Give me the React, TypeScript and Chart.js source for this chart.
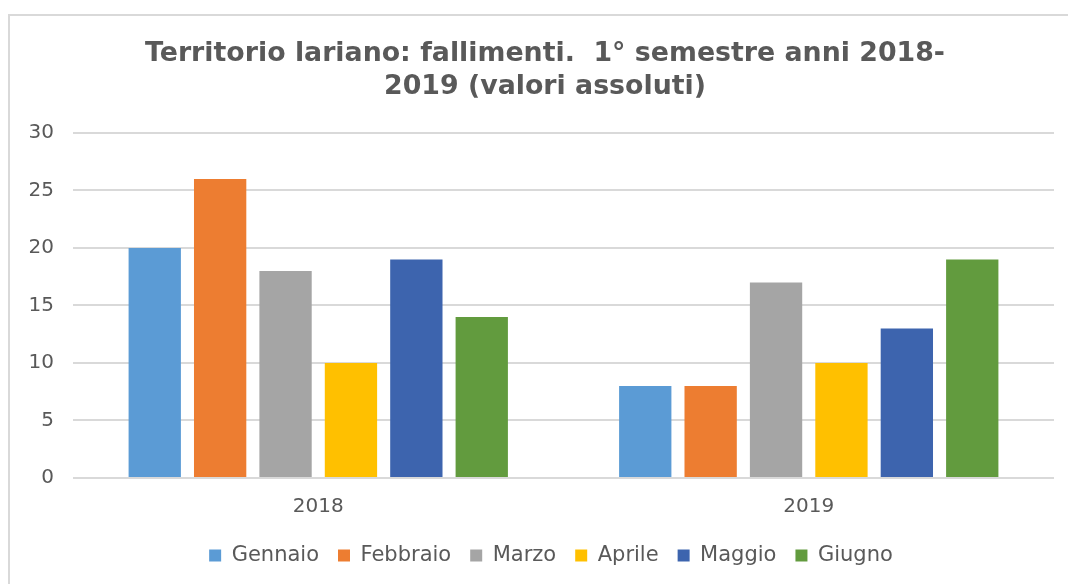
import React, { useEffect, useRef } from "react";
import { Chart, registerables } from "chart.js";

Chart.register(...registerables);

const categories = ["2018", "2019"];
const months = ["Gennaio", "Febbraio", "Marzo", "Aprile", "Maggio", "Giugno"];
const gennaio = [20, 8];
const febbraio = [26, 8];
const marzo = [18, 17];
const aprile = [10, 10];
const maggio = [19, 13];
const giugno = [14, 19];
const colors = ["#5B9BD5", "#ED7D31", "#A5A5A5", "#FFC000", "#3D64AE", "#629B3E"];
const yTicks = [0, 5, 10, 15, 20, 25, 30];
const titleLines = ["Territorio lariano: fallimenti.  1° semestre anni 2018-", "2019 (valori assoluti)"];

const shiftBoxes = {
  id: "shiftBoxes",
  afterLayout(chart: any) {
    const t = chart.titleBlock;
    if (t) {
      t.left += 11;
      t.right += 11;
    }
    const l = chart.legend;
    if (l) {
      l.left += 17;
      l.right += 17;
    }
  },
};

export default function App() {
  const ref = useRef<HTMLCanvasElement | null>(null);
  useEffect(() => {
    if (!ref.current) return;
    const series = [gennaio, febbraio, marzo, aprile, maggio, giugno];
    const chart = new Chart(ref.current, {
      type: "bar",
      data: {
        labels: categories,
        datasets: months.map((m, i) => ({
          label: m,
          data: series[i],
          backgroundColor: colors[i],
          borderWidth: 0,
          categoryPercentage: 0.8,
          barPercentage: 0.8,
        })),
      },
      options: {
        responsive: false,
        animation: false,
        devicePixelRatio: 1,
        layout: { padding: { left: 14, right: 14, top: 20, bottom: 8 } },
        plugins: {
          title: {
            display: true,
            text: titleLines,
            color: "#595959",
            font: { family: "DejaVu Sans", size: 26.8, weight: "bold", lineHeight: 1.23 },
            padding: { top: 17.5, bottom: 29.5 },
          },
          legend: {
            position: "bottom",
            labels: {
              boxWidth: 12,
              boxHeight: 12,
              color: "#595959",
              font: { family: "DejaVu Sans", size: 21 },
              padding: 19,
            },
          },
          tooltip: { enabled: false },
        },
        scales: {
          x: {
            grid: { display: false },
            border: { display: false },
            ticks: { color: "#595959", font: { family: "DejaVu Sans", size: 20 }, padding: 9 },
            afterFit: (s: any) => {
              s.height = 48;
            },
          },
          y: {
            min: 0,
            max: 30,
            afterBuildTicks: (s: any) => {
              s.ticks = yTicks.map((v) => ({ value: v }));
            },
            afterFit: (s: any) => {
              s.width = 59;
            },
            grid: { color: "#D9D9D9", lineWidth: 2, drawTicks: false },
            border: { display: false },
            ticks: { color: "#595959", font: { family: "DejaVu Sans", size: 20 }, padding: 19 },
          },
        },
      },
      plugins: [shiftBoxes],
    });
    return () => chart.destroy();
  }, []);
  return (
    <div style={{ position: "fixed", left: 0, top: 0, width: 1068, height: 584, background: "#fff" }}>
      <div
        style={{
          position: "absolute",
          left: 8,
          top: 14,
          width: 1100,
          height: 600,
          borderTop: "2px solid #D9D9D9",
          borderLeft: "2px solid #D9D9D9",
        }}
      />
      <canvas ref={ref} width={1068} height={584} style={{ position: "absolute", left: 0, top: 0 }} />
    </div>
  );
}
